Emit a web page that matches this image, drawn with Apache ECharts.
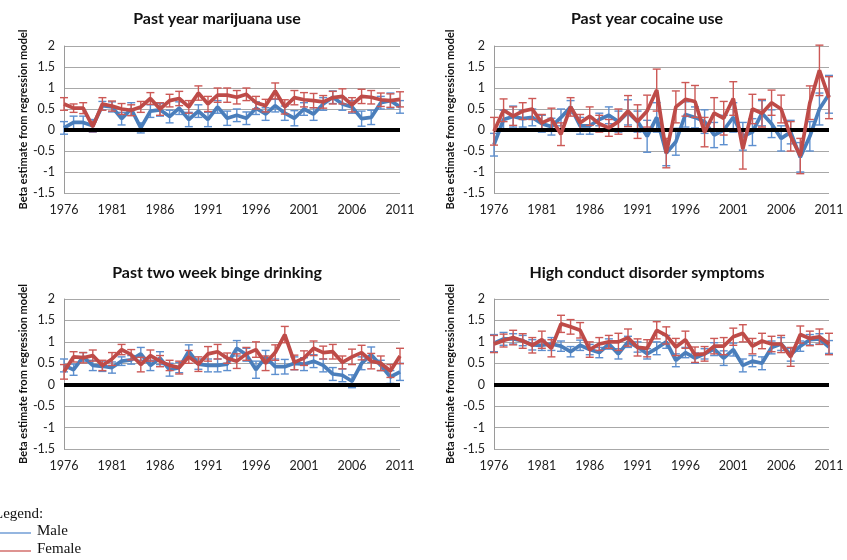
<!DOCTYPE html>
<html><head><meta charset="utf-8">
<script src="https://cdn.jsdelivr.net/npm/echarts@6/dist/echarts.min.js"></script>
<style>html,body{margin:0;padding:0;background:#fff;overflow:hidden}#c{width:847px;height:560px}</style>
</head><body><div id="c"></div>
<script>
const years = ['1976','1977','1978','1979','1980','1981','1982','1983','1984','1985','1986','1987','1988','1989','1990','1991','1992','1993','1994','1995','1996','1997','1998','1999','2000','2001','2002','2003','2004','2005','2006','2007','2008','2009','2010','2011'];
const yTicks = [-1.5, -1, -0.5, 0, 0.5, 1, 1.5, 2];
const titles = ['Past year marijuana use','Past year cocaine use','Past two week binge drinking','High conduct disorder symptoms'];
const yName = 'Beta estimate from regression model';

const marijuanaMale = [0.05,0.18,0.18,0.1,0.58,0.55,0.27,0.5,0.05,0.45,0.48,0.32,0.52,0.25,0.45,0.25,0.55,0.28,0.35,0.28,0.52,0.38,0.58,0.4,0.28,0.5,0.38,0.62,0.78,0.62,0.55,0.27,0.3,0.65,0.7,0.55];
const marijuanaMaleErr = [0.15,0.15,0.15,0.15,0.1,0.12,0.15,0.15,0.12,0.15,0.15,0.15,0.15,0.17,0.15,0.17,0.15,0.17,0.15,0.15,0.15,0.15,0.15,0.17,0.18,0.15,0.15,0.15,0.15,0.15,0.15,0.18,0.17,0.15,0.18,0.15];
const marijuanaFemale = [0.62,0.52,0.52,0.08,0.62,0.57,0.5,0.47,0.55,0.75,0.5,0.7,0.75,0.55,0.88,0.62,0.83,0.83,0.78,0.85,0.65,0.58,0.93,0.55,0.77,0.72,0.7,0.67,0.77,0.8,0.6,0.8,0.78,0.72,0.7,0.73];
const marijuanaFemaleErr = [0.15,0.1,0.13,0.12,0.15,0.12,0.13,0.13,0.13,0.14,0.15,0.15,0.17,0.15,0.17,0.18,0.17,0.17,0.16,0.15,0.15,0.15,0.19,0.17,0.17,0.17,0.17,0.15,0.15,0.18,0.17,0.17,0.16,0.16,0.16,0.18];

const cocaineMale = [-0.35,0.25,0.32,0.27,0.3,0.15,0.08,0.3,0.55,0.1,0.1,0.25,0.35,0.2,0.42,0.2,-0.15,0.3,-0.55,-0.28,0.37,0.3,0.2,-0.12,0,0.3,-0.15,-0.05,0.4,0.15,-0.2,-0.05,-0.65,-0.15,0.5,0.85];
const cocaineMaleErr = [0.27,0.22,0.25,0.2,0.2,0.2,0.2,0.2,0.15,0.2,0.2,0.15,0.2,0.25,0.3,0.25,0.38,0.35,0.3,0.32,0.3,0.25,0.28,0.3,0.35,0.35,0.33,0.32,0.3,0.33,0.3,0.28,0.35,0.35,0.38,0.45];
const cocaineFemale = [-0.03,0.47,0.33,0.45,0.5,0.17,0.27,-0.1,0.55,0.17,0.33,0.15,0.05,0.2,0.45,0.2,0.45,0.95,-0.55,0.55,0.73,0.68,-0.05,0.4,0.28,0.75,-0.45,0.5,0.4,0.65,0.5,-0.15,-0.62,0.65,1.42,0.77];
const cocaineFemaleErr = [0.33,0.27,0.22,0.2,0.25,0.2,0.25,0.27,0.22,0.2,0.22,0.2,0.2,0.3,0.37,0.4,0.38,0.5,0.35,0.38,0.4,0.38,0.35,0.37,0.4,0.4,0.48,0.35,0.33,0.3,0.33,0.35,0.42,0.4,0.6,0.5];

const bingeMale = [0.45,0.35,0.65,0.45,0.43,0.4,0.55,0.58,0.72,0.45,0.62,0.35,0.4,0.78,0.48,0.45,0.45,0.48,0.85,0.7,0.35,0.65,0.42,0.42,0.5,0.48,0.55,0.45,0.25,0.22,0.08,0.5,0.7,0.45,0.18,0.3];
const bingeMaleErr = [0.15,0.13,0.1,0.12,0.12,0.13,0.1,0.1,0.15,0.12,0.15,0.15,0.12,0.15,0.12,0.15,0.15,0.15,0.18,0.15,0.2,0.15,0.18,0.17,0.15,0.15,0.15,0.15,0.15,0.15,0.15,0.15,0.18,0.12,0.15,0.2];
const bingeFemale = [0.3,0.65,0.63,0.68,0.45,0.6,0.82,0.7,0.47,0.68,0.55,0.45,0.4,0.65,0.48,0.72,0.77,0.62,0.55,0.72,0.82,0.5,0.75,1.17,0.52,0.62,0.85,0.75,0.77,0.52,0.65,0.75,0.55,0.5,0.32,0.67];
const bingeFemaleErr = [0.17,0.12,0.12,0.13,0.12,0.15,0.12,0.12,0.17,0.13,0.13,0.12,0.15,0.15,0.17,0.17,0.17,0.12,0.17,0.15,0.18,0.17,0.18,0.19,0.17,0.17,0.17,0.15,0.17,0.15,0.18,0.17,0.18,0.17,0.15,0.18];

const conductMale = [0.97,1.07,1.07,1.03,0.93,0.92,0.95,0.9,0.77,0.92,0.82,0.75,0.95,0.72,1,0.88,0.72,0.85,1,0.57,0.75,0.62,0.72,0.83,0.62,0.82,0.45,0.55,0.5,0.87,0.95,0.7,0.9,1.05,1.07,0.88];
const conductMaleErr = [0.2,0.15,0.12,0.12,0.12,0.12,0.15,0.12,0.12,0.12,0.12,0.12,0.12,0.12,0.13,0.12,0.12,0.15,0.15,0.15,0.12,0.12,0.12,0.15,0.17,0.15,0.15,0.13,0.15,0.15,0.15,0.15,0.12,0.12,0.12,0.15];
const conductFemale = [0.95,1.03,1.1,1.02,0.92,1.05,0.85,1.42,1.35,1.27,0.82,0.95,1,1,1.1,0.87,0.85,1.27,1.15,0.88,1.05,0.7,0.72,0.9,0.9,1.12,1.2,0.9,1.02,0.95,0.95,0.65,1.17,1.08,1.12,0.95];
const conductFemaleErr = [0.2,0.15,0.17,0.17,0.18,0.2,0.2,0.2,0.17,0.18,0.18,0.15,0.15,0.2,0.2,0.2,0.2,0.2,0.2,0.2,0.2,0.18,0.17,0.18,0.2,0.2,0.2,0.18,0.18,0.18,0.2,0.22,0.2,0.17,0.18,0.25];

const panelData = [
  [marijuanaMale, marijuanaMaleErr, marijuanaFemale, marijuanaFemaleErr],
  [cocaineMale, cocaineMaleErr, cocaineFemale, cocaineFemaleErr],
  [bingeMale, bingeMaleErr, bingeFemale, bingeFemaleErr],
  [conductMale, conductMaleErr, conductFemale, conductFemaleErr]
];

const layout = [
  {left:64, top:46, width:336, height:147, titleX:212, titleY:6, nameGap:33},
  {left:494, top:46, width:335, height:147, titleX:642, titleY:6, nameGap:38},
  {left:64, top:299, width:336, height:150, titleX:212, titleY:260, nameGap:33},
  {left:494, top:299, width:335, height:150, titleX:642, titleY:260, nameGap:38}
];

const MALE = '#4a7ebb', FEMALE = '#be4b48';
const MALE_ERR = '#5d8fcf', FEMALE_ERR = '#cc5956';
const FONT = 'Lato';

function errRenderer(color) {
  return function (params, api) {
    const x = api.value(0), v = api.value(1), e = api.value(2);
    const hi = api.coord([x, v + e]);
    const lo = api.coord([x, v - e]);
    const w = 4;
    const style = {stroke: color, lineWidth: 1.4, fill: null};
    return {type: 'group', children: [
      {type: 'line', shape: {x1: hi[0], y1: hi[1], x2: lo[0], y2: lo[1]}, style: style},
      {type: 'line', shape: {x1: hi[0] - w, y1: hi[1], x2: hi[0] + w, y2: hi[1]}, style: style},
      {type: 'line', shape: {x1: lo[0] - w, y1: lo[1], x2: lo[0] + w, y2: lo[1]}, style: style}
    ]};
  };
}

const grid = [], xAxis = [], yAxis = [], series = [], title = [];
layout.forEach(function (L, i) {
  grid.push({left: L.left, top: L.top, width: L.width, height: L.height});
  title.push({text: titles[i], left: L.titleX, top: L.titleY, textAlign: 'center',
    textStyle: {fontFamily: FONT, fontWeight: 'bold', fontSize: 16, color: '#111'}});
  xAxis.push({type: 'category', gridIndex: i, data: years, boundaryGap: false,
    axisLine: {show: false}, axisTick: {show: false},
    axisLabel: {interval: 4, margin: 10, fontFamily: FONT, fontSize: 12.5, color: '#222'},
    splitLine: {show: false}});
  yAxis.push({type: 'value', gridIndex: i, min: yTicks[0], max: yTicks[yTicks.length - 1], interval: 0.5,
    name: yName, nameLocation: 'middle', nameRotate: 90, nameGap: L.nameGap,
    nameTextStyle: {fontFamily: FONT, fontWeight: 'bold', fontSize: 11, color: '#111'},
    axisLine: {show: true, lineStyle: {color: '#9a9a9a', width: 1}}, axisTick: {show: false},
    axisLabel: {margin: 9, fontFamily: FONT, fontSize: 12.5, color: '#222'},
    splitLine: {show: true, lineStyle: {color: '#a8a8a8', width: 1}}});
  const d = panelData[i];
  series.push({type: 'custom', name: 'Male', xAxisIndex: i, yAxisIndex: i, z: 2,
    renderItem: errRenderer(MALE_ERR), encode: {x: 0, y: 1},
    data: d[0].map(function (v, k) { return [k, v, d[1][k]]; }),
    markLine: {silent: true, symbol: ['none', 'none'], label: {show: false},
      lineStyle: {color: '#000', width: 4, type: 'solid'}, data: [{yAxis: 0}]}});
  series.push({type: 'line', name: 'Male', xAxisIndex: i, yAxisIndex: i, z: 3, data: d[0],
    showSymbol: false, symbol: 'none', lineStyle: {color: MALE, width: 3.7}, itemStyle: {color: MALE}});
  series.push({type: 'custom', name: 'Female', xAxisIndex: i, yAxisIndex: i, z: 4,
    renderItem: errRenderer(FEMALE_ERR), encode: {x: 0, y: 1},
    data: d[2].map(function (v, k) { return [k, v, d[3][k]]; })});
  series.push({type: 'line', name: 'Female', xAxisIndex: i, yAxisIndex: i, z: 5, data: d[2],
    showSymbol: false, symbol: 'none', lineStyle: {color: FEMALE, width: 3.7}, itemStyle: {color: FEMALE}});
});

const SERIF = 'Liberation Serif';
const graphic = [
  {type: 'text', left: -6, top: 507, style: {text: 'Legend:', font: '15px "' + SERIF + '"', fill: '#111'}},
  {type: 'line', shape: {x1: 0, y1: 533, x2: 31, y2: 533}, style: {stroke: '#5b8fd0', lineWidth: 1.3}},
  {type: 'text', left: 37, top: 524, style: {text: 'Male', font: '15px "' + SERIF + '"', fill: '#111'}},
  {type: 'line', shape: {x1: 0, y1: 551, x2: 31, y2: 551}, style: {stroke: '#cc5956', lineWidth: 1.3}},
  {type: 'text', left: 37, top: 542, style: {text: 'Female', font: '15px "' + SERIF + '"', fill: '#111'}}
];

const chart = echarts.init(document.getElementById('c'), null, {renderer: 'canvas'});
chart.setOption({animation: false, backgroundColor: '#fff', title: title, grid: grid,
  xAxis: xAxis, yAxis: yAxis, series: series, graphic: graphic});
</script></body></html>
